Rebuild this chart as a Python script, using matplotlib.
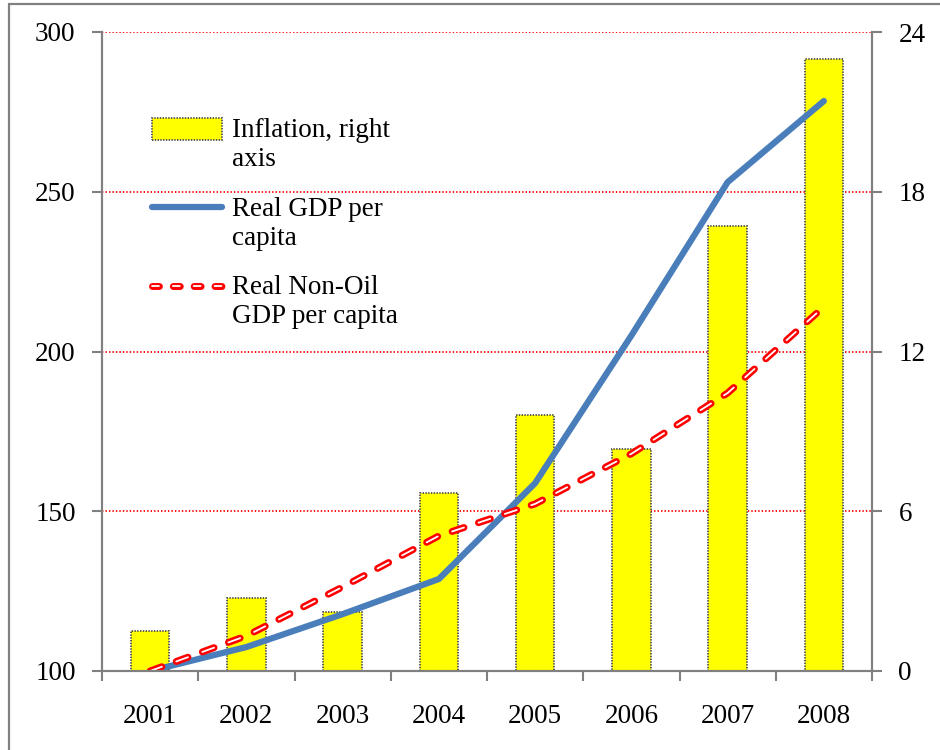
import numpy as np
import matplotlib.pyplot as plt
from matplotlib.patches import Rectangle
from matplotlib.lines import Line2D
from matplotlib.legend_handler import HandlerTuple, HandlerPatch

plt.rcParams['font.family'] = ['Liberation Serif', 'DejaVu Serif']
plt.rcParams['font.size'] = 19.5
plt.rcParams['lines.scale_dashes'] = False

# data
years = ["2001", "2002", "2003", "2004", "2005", "2006", "2007", "2008"]
inflation = [1.5, 2.75, 2.2, 6.7, 9.6, 8.35, 16.7, 23.0]          # right axis
gdp_pc = [100, 107.5, 117.8, 128.8, 158.8, 205, 253, 278.4]        # left axis
nonoil_gdp_pc = [100, 111, 126.3, 142.3, 152.3, 168, 187, 214]     # left axis

x = np.arange(len(years))
gray = '#808080'

fig = plt.figure(figsize=(9.4, 7.5), dpi=100)
ax = fig.add_axes([102/940, 79/750, 770/940, 639/750])
ax2 = ax.twinx()

# bars on the right axis, gridlines behind them
ax2.set_axisbelow(True)
bars = ax2.bar(x, inflation, width=0.4, color='#FFFF00', edgecolor='#4d4d4d',
               linewidth=1.3, linestyle=(0, (1, 1)))
ax2.set_ylim(0, 24)
ax2.set_yticks([0, 6, 12, 18, 24])
ax2.yaxis.grid(True, color='red', linestyle=(0, (1, 1.5)), linewidth=1.3)

# lines on the left axis, drawn on top
ax.set_zorder(ax2.get_zorder() + 1)
ax.patch.set_visible(False)
l1, = ax.plot(x, gdp_pc, color='#4A7EBB', linewidth=4.5, solid_capstyle='round')
ax.plot(x, nonoil_gdp_pc, color='red', linewidth=5, dashes=(9, 11),
        dash_capstyle='round')
ax.plot(x, nonoil_gdp_pc, color='white', linewidth=1.3, dashes=(9, 11),
        dash_capstyle='round')
ax.set_ylim(100, 300)
ax.set_yticks([100, 150, 200, 250, 300])
ax.set_xlim(-0.5, len(years) - 0.5)

ax.set_xticks(x)
ax.set_xticklabels(years)
ax.set_xticks(np.arange(-0.5, len(years)), minor=True)
ax.tick_params(axis='x', which='major', length=0, pad=24)
ax.tick_params(axis='x', which='minor', length=7, color=gray, width=1.5)
ax.tick_params(axis='y', length=7, color=gray, width=1.5, pad=12)
ax2.tick_params(axis='y', length=7, color=gray, width=1.5, pad=12)

for a in (ax, ax2):
    for s in a.spines.values():
        s.set_color(gray)
        s.set_linewidth(1.5)
    a.spines['top'].set_visible(False)

# legend: hollow dashed handle, slim bar box, handles next to the first text line
h_red = Line2D([], [], color='red', linewidth=5, dashes=(5, 10), dash_capstyle='round')
h_white = Line2D([], [], color='white', linewidth=1.3, dashes=(5, 10), dash_capstyle='round')


def slim_box(legend, orig_handle, xdescent, ydescent, width, height, fontsize):
    h = 0.5 * fontsize
    return Rectangle((-xdescent, -ydescent + (height - h) / 2), width, h)


leg = ax.legend([bars, l1, (h_red, h_white)],
                ['Inflation, right\naxis', 'Real GDP per\ncapita', 'Real Non-Oil\nGDP per capita'],
                handler_map={tuple: HandlerTuple(ndivide=1, pad=0),
                             type(bars.patches[0]): HandlerPatch(patch_func=slim_box)},
                loc='upper left', bbox_to_anchor=(152/940, 1 - 118/750),
                bbox_transform=fig.transFigure, frameon=False,
                handlelength=2.6, handleheight=0.9, handletextpad=0.35,
                labelspacing=0.92, borderpad=0, borderaxespad=0)
for col in leg._legend_handle_box.get_children():
    for row in col.get_children():
        row.align = 'top'

# outer frame of the exhibit
fig.patches.append(Rectangle((9/940, -0.2), 1.2, 1.2 - 4/750,
                             transform=fig.transFigure, fill=False,
                             edgecolor=gray, linewidth=1.6, clip_on=False))

fig.savefig('out.png', dpi=100)
